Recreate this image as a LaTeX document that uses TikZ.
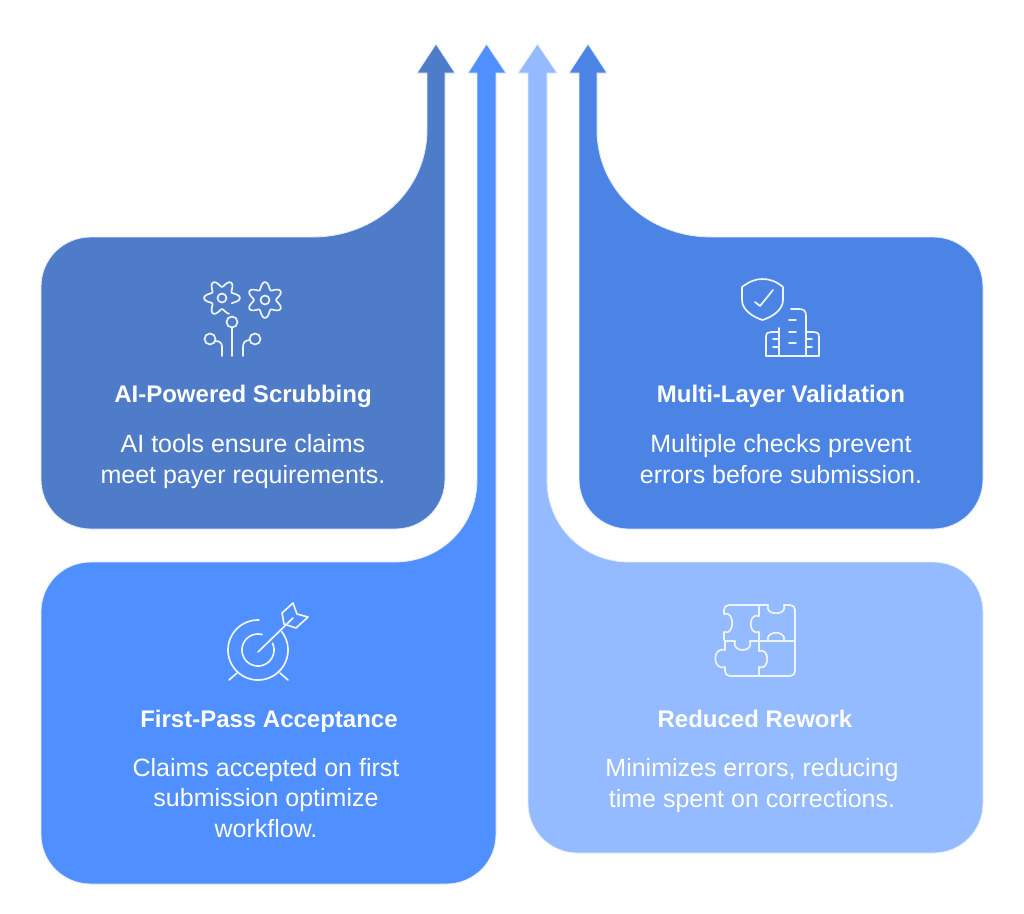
\documentclass[tikz,border=0pt]{standalone}
\usepackage{fontspec}
\setmainfont{Liberation Sans}
\definecolor{scrubblue}{HTML}{4F7CC8}
\definecolor{passblue}{HTML}{4F8FFF}
\definecolor{reworkblue}{HTML}{94BAFF}
\definecolor{layerblue}{HTML}{4C84E6}
\definecolor{rimblue}{HTML}{E4ECFB}
\definecolor{iconwhite}{HTML}{EEF4FF}
\begin{document}
\begin{tikzpicture}[x=1pt,y=-1pt,
		panel/.style={draw=rimblue, line width=0.8pt},
		icon/.style={draw=iconwhite, line width=1.7pt, line cap=round, line join=round},
		heading/.style={text=white, anchor=base, inner sep=0pt, font=\bfseries\fontsize{24}{28}\selectfont, align=center},
		blurb/.style={text=white, anchor=base, inner sep=0pt, font=\fontsize{25}{30.3}\selectfont, align=center}]
	\useasboundingbox (0,0) rectangle (1024,913);
	\fill[white] (0,0) rectangle (1024,913);
	% arrow panels
	\draw[panel, fill=scrubblue] (436,44) -- (455,73) -- (445,73) -- (445,479) .. controls (445,507) and (423,529) .. (395,529) -- (91,529) .. controls (63,529) and (41,507) .. (41,479) -- (41,287) .. controls (41,259) and (63,237) .. (91,237) -- (313,237) .. controls (376,237) and (427,190) .. (427,130) -- (427,73) -- (417,73) -- cycle;
	\draw[panel, fill=passblue] (486.5,44) -- (506,73) -- (496,73) -- (496,834) .. controls (496,862) and (474,884) .. (446,884) -- (91,884) .. controls (63,884) and (41,862) .. (41,834) -- (41,612) .. controls (41,584) and (63,562) .. (91,562) -- (395,562) .. controls (441,562) and (477,526) .. (477,480) -- (477,73) -- (468,73) -- cycle;
	\draw[panel, fill=reworkblue] (537.5,44) -- (557,73) -- (547,73) -- (547,480) .. controls (547,526) and (583,562) .. (629,562) -- (933,562) .. controls (961,562) and (983,584) .. (983,612) -- (983,803) .. controls (983,831) and (961,853) .. (933,853) -- (578,853) .. controls (550,853) and (528,831) .. (528,803) -- (528,73) -- (518,73) -- cycle;
	\draw[panel, fill=layerblue] (588,44) -- (607,73) -- (597,73) -- (597,130) .. controls (597,190) and (648,237) .. (711,237) -- (933,237) .. controls (961,237) and (983,259) .. (983,287) -- (983,479) .. controls (983,507) and (961,529) .. (933,529) -- (629,529) .. controls (601,529) and (579,507) .. (579,479) -- (579,73) -- (569,73) -- cycle;
	% gears and circuit
	\draw[icon] plot[smooth, domain=66:388, samples=70] ({222+(14.5+3.4*cos(6*\x))*cos(\x)},{298+(14.5+3.4*cos(6*\x))*sin(\x)});
	\draw[icon] (222,298) circle(4.5);
	\draw[icon] plot[smooth, domain=0:360, samples=80] ({265+(14.5+3.4*cos(6*(\x+30)))*cos(\x)},{300+(14.5+3.4*cos(6*(\x+30)))*sin(\x)});
	\draw[icon] (265,300) circle(4.5);
	\draw[icon] (232,322) circle(5.5);
	\draw[icon] (232,328) -- (232,356);
	\draw[icon] (210,339) circle(5.5);
	\draw[icon] (215,341) .. controls (220,341) and (222,343) .. (222,347) -- (222,356);
	\draw[icon] (255,339) circle(5.5);
	\draw[icon] (250,340) .. controls (245,340) and (243,343) .. (243,347) -- (243,356);
	% shield and buildings
	\draw[icon] (742,287) .. controls (750,281) and (756,279) .. (762.5,279) .. controls (769,279) and (776,281) .. (783,287) -- (783,300) .. controls (783,310) and (772,317) .. (762.5,320) .. controls (753,317) and (742,310) .. (742,300) -- cycle;
	\draw[icon] (755,302) -- (760,306) -- (773,290);
	\draw[icon] (766,356) -- (819,356);
	\draw[icon] (766,356) -- (766,337) .. controls (766,333) and (768,332) .. (771,332) -- (779,332);
	\draw[icon] (779,328) -- (779,356);
	\draw[icon] (791,309) -- (799,309) .. controls (804,309) and (806,311) .. (806,316) -- (806,356);
	\draw[icon] (806,332) -- (814,332) .. controls (817,332) and (819,333) .. (819,337) -- (819,356);
	\foreach \ylev in {320,332,343} \draw[icon] (789,\ylev) -- (796,\ylev);
	\foreach \ylev in {339,347} {
		\draw[icon] (773,\ylev) -- (779,\ylev);
		\draw[icon] (806,\ylev) -- (812,\ylev);
	}
	% target and dart
	\draw[icon] plot[smooth, domain=-38:272, samples=60] ({258+30*cos(\x)},{650+30*sin(\x)});
	\draw[icon] plot[smooth, domain=-25:285, samples=50] ({258+16*cos(\x)},{650+16*sin(\x)});
	\draw[icon] (258,652) -- (293,618);
	\draw[icon] (229,680) -- (237,673);
	\draw[icon] (288,680) -- (280,673);
	\draw[icon] (284,624) -- (282,613) -- (293,603) -- (297,614) -- (308,617) -- (296,628) -- cycle;
	% puzzle
	\draw[icon] (724,640) -- (724,632) .. controls (735,636) and (735,610) .. (724,614) -- (724,610) .. controls (724,607) and (726,605) .. (729,605) -- (768,605) .. controls (764,616) and (788,616) .. (784,605) -- (790,605) .. controls (793,605) and (795,607) .. (795,610) -- (795,671) .. controls (795,674) and (793,676) .. (790,676) -- (730,676) .. controls (727,676) and (725,674) .. (725,671) -- (725,667) .. controls (712,671) and (712,646) .. (725,650) -- (725,641);
	\draw[icon] (725,641) -- (735,641) .. controls (731,653) and (754,653) .. (750,641) -- (795,641);
	\draw[icon] (768,641) .. controls (765,630) and (787,630) .. (784,641);
	\draw[icon] (759,605) -- (759,616) .. controls (748,612) and (748,636) .. (759,632) -- (759,651) .. controls (770,647) and (770,671) .. (759,667) -- (759,676);
	% labels
	\node[heading] (scrubtitle) at (243,402) {AI-Powered Scrubbing};
	\node[blurb] (scrubtext) at (243,483) {AI tools ensure claims\\meet payer requirements.};
	\node[heading] (passtitle) at (269,727) {First-Pass Acceptance};
	\node[blurb] (passtext) at (266,837) {Claims accepted on first\\submission optimize\\workflow.};
	\node[heading] (reworktitle) at (755,727) {Reduced Rework};
	\node[blurb] (reworktext) at (752,807) {Minimizes errors, reducing\\time spent on corrections.};
	\node[heading] (layertitle) at (781,402) {Multi-Layer Validation};
	\node[blurb] (layertext) at (781,483) {Multiple checks prevent\\errors before submission.};
\end{tikzpicture}
\end{document}
